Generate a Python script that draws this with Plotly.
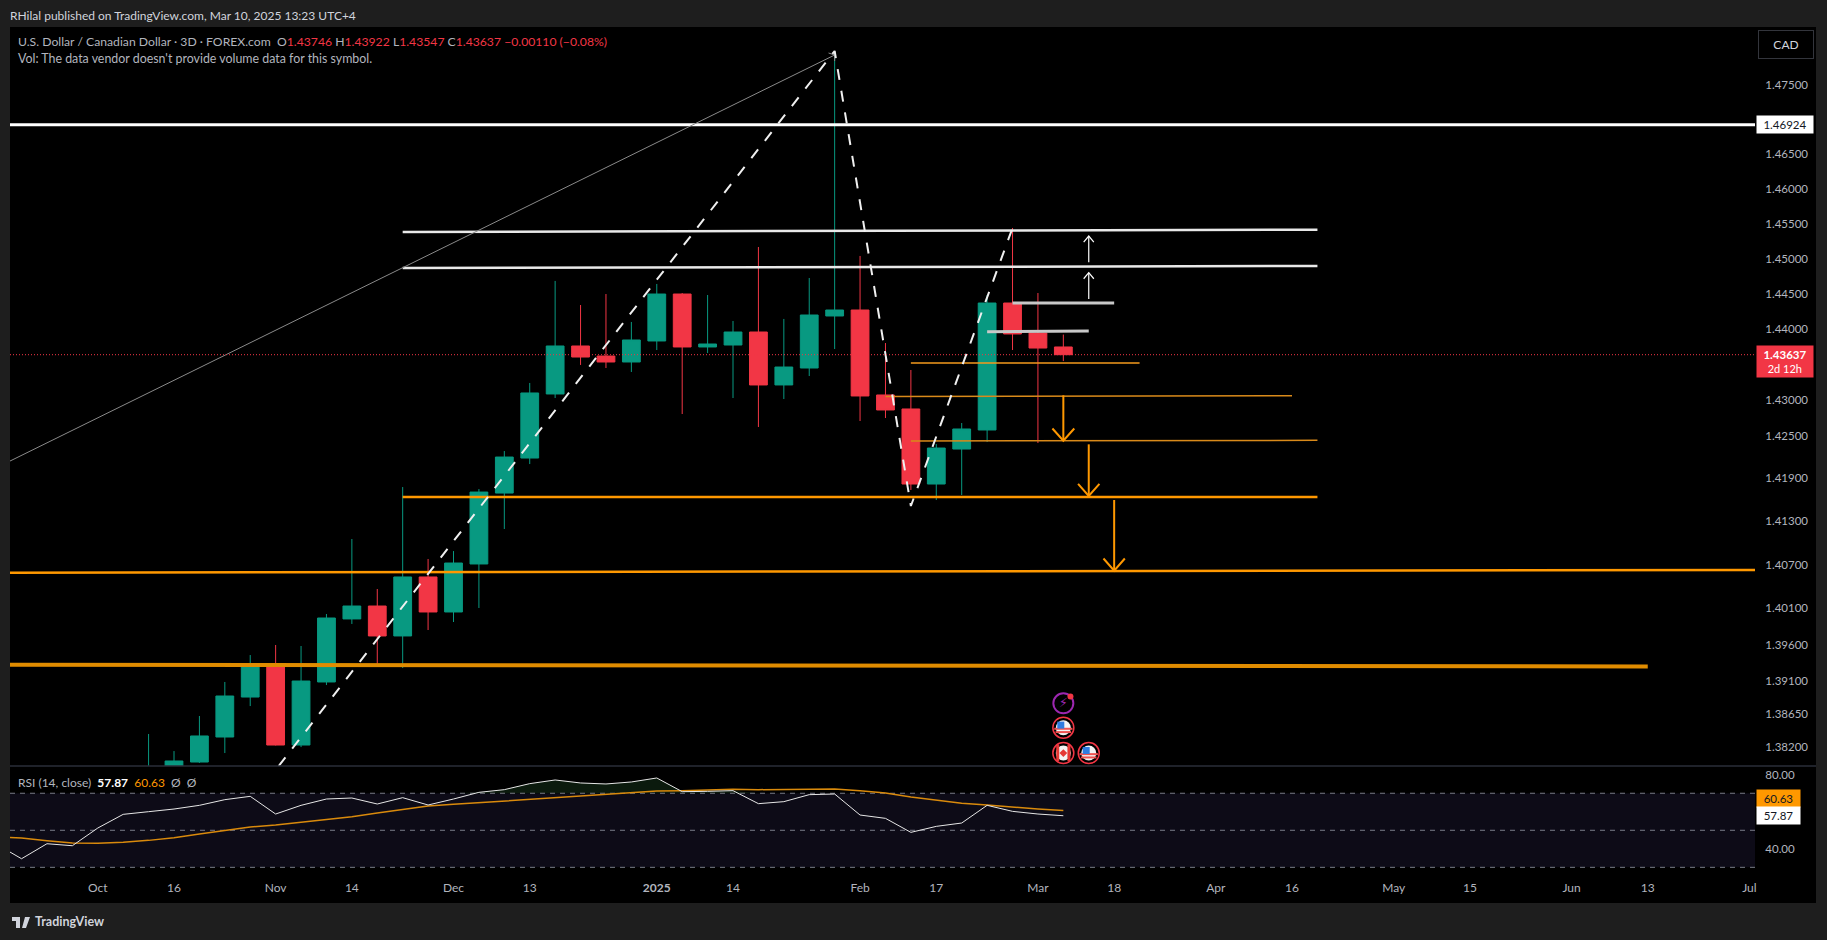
import numpy as np
import plotly.graph_objects as go

# 3D bars, index 0 is the first bar whose wick shows in the price pane
bar_index = list(range(37))
opens = [1.37280, 1.37616, 1.37995, 1.38335, 1.38880, 1.39332, 1.38226, 1.39086, 1.39951, 1.40129,
         1.39717, 1.40530, 1.40047, 1.40710, 1.41695, 1.42184, 1.43083, 1.43760, 1.43618, 1.43534,
         1.43831, 1.44497, 1.43746, 1.43774, 1.43958, 1.43210, 1.43449, 1.44185, 1.44270, 1.43069,
         1.42872, 1.41821, 1.42310, 1.42577, 1.44369, 1.43944, 1.43746]
highs = [1.38376, 1.38144, 1.38621, 1.39086, 1.39455, 1.39593, 1.39579, 1.40019, 1.41056, 1.40364,
         1.41779, 1.40779, 1.40889, 1.41751, 1.42282, 1.43238, 1.44683, 1.44341, 1.44497, 1.44100,
         1.44640, 1.44511, 1.44483, 1.44114, 1.45167, 1.44143, 1.44725, 1.47993, 1.45039, 1.43802,
         1.43421, 1.42380, 1.42675, 1.44483, 1.45439, 1.44511, 1.43922]
lows = [1.37140, 1.37480, 1.37982, 1.38117, 1.38757, 1.38220, 1.38198, 1.39044, 1.39882, 1.39305,
        1.39277, 1.39799, 1.39909, 1.40102, 1.41195, 1.42100, 1.43026, 1.43492, 1.43449, 1.43393,
        1.43703, 1.42801, 1.43661, 1.43026, 1.42619, 1.43012, 1.43336, 1.43717, 1.42703, 1.42745,
        1.41738, 1.41598, 1.41668, 1.42408, 1.43703, 1.42394, 1.43547]
closes = [1.37616, 1.38009, 1.38349, 1.38894, 1.39332, 1.38226, 1.39099, 1.39964, 1.40129, 1.39717,
          1.40530, 1.40047, 1.40723, 1.41709, 1.42198, 1.43097, 1.43760, 1.43604, 1.43534, 1.43845,
          1.44497, 1.43746, 1.43788, 1.43958, 1.43210, 1.43463, 1.44199, 1.44270, 1.43055, 1.42858,
          1.41821, 1.42324, 1.42591, 1.44369, 1.43930, 1.43731, 1.43637]

rsi_bars = list(range(-6, 37))
rsi_values = [42.58, 34.65, 42.75, 41.67, 51.22, 58.61, 60.05, 61.49, 63.48, 66.54, 68.34,
              58.79, 63.48, 66.90, 67.44, 64.20, 67.62, 63.66, 66.90, 70.50, 71.94, 75.19,
              77.17, 75.55, 75.01, 76.09, 78.25, 70.86, 71.04, 71.40, 64.38, 65.46, 69.24,
              69.60, 58.25, 56.45, 48.88, 52.12, 53.93, 63.48, 60.23, 58.79, 57.87]
rsi_ma = [46.54, 45.82, 44.38, 43.12, 42.94, 43.48, 44.56, 46.00, 47.98, 49.96, 51.76,
          52.85, 54.29, 55.73, 57.35, 59.33, 61.31, 63.12, 64.02, 64.92, 65.82, 66.54,
          67.44, 68.34, 69.06, 70.32, 71.22, 71.40, 71.76, 72.12, 71.94, 72.12, 72.30,
          72.30, 71.40, 70.14, 67.98, 66.18, 64.56, 63.66, 62.39, 61.49, 60.63]
rsi_bands = [70, 50, 30]

x_left = -5.454
x_right = 63.22
price_top = 1.48343
price_bottom = 1.37941

time_ticks = [-2, 1, 5, 8, 12, 15, 20, 23, 28, 31, 35, 38, 42, 45, 49, 52, 56, 59, 63]
time_labels = ["Oct", "16", "Nov", "14", "Dec", "13", "<b>2025</b>", "14", "Feb", "17", "Mar", "18",
               "Apr", "16", "May", "15", "Jun", "13", "Jul"]
price_ticks = [1.475, 1.465, 1.46, 1.455, 1.45, 1.445, 1.44, 1.43, 1.425, 1.419, 1.413,
               1.407, 1.401, 1.396, 1.391, 1.3865, 1.382]

# drawings: bar from, bar to, price from, price to, colour, width
white_levels = [
    (x_left, x_right, 1.46924, 1.46924, "#ffffff", 3),
    (10, 46, 1.45382, 1.45415, "#e8e8e8", 2.5),
    (10, 46, 1.44868, 1.44896, "#e8e8e8", 2.5),
    (34, 38, 1.44369, 1.44369, "#c8c8c8", 3),
    (33, 37, 1.43960, 1.43972, "#c8c8c8", 3),
]
orange_levels = [
    (30, 39, 1.43520, 1.43520, "#f59a1c", 1.5),
    (29, 45, 1.43047, 1.43058, "#d98a1a", 1.5),
    (30, 46, 1.42422, 1.42432, "#d98a1a", 1.5),
    (10, 46, 1.41640, 1.41640, "#ff9800", 2.5),
    (x_left, x_right, 1.40589, 1.40627, "#ff9800", 2.5),
    (x_left, 59, 1.39323, 1.39298, "#e08c00", 4),
]
zigzag_bars = [5.12, 27, 30, 34]
zigzag_prices = [1.37941, 1.47993, 1.41515, 1.45439]
trend_bars = [x_left, 27]
trend_prices = [1.42142, 1.47935]
# arrows: bar, price from, price to, head half width (bars), head height (price ratio), colour, width
arrows = [
    (37, 1.44949, 1.45324, 0.2, 1.0006, "#ffffff", 1.2),
    (37, 1.44426, 1.44801, 0.2, 1.0006, "#ffffff", 1.2),
    (36, 1.43064, 1.42427, 0.43, 1.0012, "#ff9800", 2),
    (37, 1.42376, 1.41654, 0.42, 1.0012, "#ff9800", 2),
    (38, 1.41598, 1.40617, 0.42, 1.0012, "#ff9800", 2),
]

GREEN = "#089981"
RED = "#f23645"
ORANGE = "#ff9800"
TEXT = "#b2b5be"
FONT = "Lato"


def px(x):
    return (x - 10) / 1745


def py(y):
    return (879 - y) / 852


def add_line(xs, ys, color, width, dash="solid", yaxis="y"):
    fig.add_trace(go.Scatter(x=xs, y=ys, mode="lines", yaxis=yaxis,
                             line=dict(color=color, width=width, dash=dash),
                             hoverinfo="skip", showlegend=False))


def add_marker(x, y, symbol, size, color, line_width=0, line_color=None):
    fig.add_trace(go.Scatter(x=[x], y=[y], mode="markers", hoverinfo="skip", showlegend=False,
                             marker=dict(symbol=symbol, size=size, color=color,
                                         line=dict(width=line_width, color=line_color or color))))


def add_text(x, y, text, size=12, color=TEXT):
    fig.add_annotation(xref="paper", yref="paper", x=px(x), y=py(y), text=text, showarrow=False,
                       xanchor="left", yanchor="middle", align="left",
                       font=dict(family=FONT, size=size, color=color))


def add_price_box(y, text, fill, color, w, h, x=1756, size=11.5):
    fig.add_annotation(xref="paper", yref="paper", x=px(x), y=py(y), text=text, showarrow=False,
                       xanchor="left", yanchor="middle", width=w, height=h, bgcolor=fill,
                       borderpad=0, font=dict(family=FONT, size=size, color=color))


fig = go.Figure()

for x0, x1, p0, p1, col, w in white_levels + orange_levels:
    add_line([x0, x1], [p0, p1], col, w)
add_line(trend_bars, trend_prices, "#8a8a8a", 1)
add_line([26.76, 27, 27], [1.47964, 1.47935, 1.47848], "#8a8a8a", 1)
add_line(zigzag_bars, zigzag_prices, "#f0f0f0", 2, dash="11px,11px")
add_line([x_left, x_right], [closes[-1], closes[-1]], RED, 1, dash="1px,2px")
for bar, p0, p1, half, ratio, col, w in arrows:
    add_line([bar, bar], [p0, p1], col, w)
    back = p1 * ratio if p1 < p0 else p1 / ratio
    add_line([bar - half, bar, bar + half], [back, p1, back], col, w)

fig.add_trace(go.Candlestick(
    x=bar_index, open=opens, high=highs, low=lows, close=closes, whiskerwidth=0,
    increasing=dict(line=dict(color=GREEN, width=1), fillcolor=GREEN),
    decreasing=dict(line=dict(color=RED, width=1), fillcolor=RED),
    hoverinfo="skip", showlegend=False))

# event markers
event_bars = [36, 36, 36, 37]
event_prices = [1.38794, 1.38462, 1.38117, 1.38117]
add_marker(event_bars[0], event_prices[0], "circle-open", 20, "#9c27b0", 2)
add_marker(event_bars[0] + 0.28, event_prices[0] + 0.00095, "circle", 6, "#f23645")
fig.add_trace(go.Scatter(x=[event_bars[0]], y=[event_prices[0]], mode="text", text=["⚡"],
                         textposition="middle center", hoverinfo="skip", showlegend=False,
                         textfont=dict(family="DejaVu Sans", size=13, color="#9c27b0")))
for bar, price in zip(event_bars[1:], event_prices[1:]):
    add_marker(bar, price, "circle", 15, "#f4f4f4")
    if price == event_prices[2] and bar == event_bars[2]:
        add_marker(bar - 0.22, price, "line-ns-open", 12, "#e53935", 3)
        add_marker(bar + 0.22, price, "line-ns-open", 12, "#e53935", 3)
        add_marker(bar, price, "diamond", 6, "#e53935")
    else:
        add_marker(bar, price - 0.00015, "line-ew-open", 13, "#ef5350", 2)
        add_marker(bar, price - 0.0006, "line-ew-open", 11, "#ef5350", 2)
        add_marker(bar - 0.1, price + 0.00035, "square", 7, "#2f7de1")
    add_marker(bar, price, "circle-open", 21, "#f23645", 1.5)

# RSI pane
add_line(rsi_bars, [70] * len(rsi_bars), "rgba(0,0,0,0)", 0, yaxis="y2")
fig.add_trace(go.Scatter(x=rsi_bars, y=[max(v, 70) for v in rsi_values], mode="lines", yaxis="y2",
                         line=dict(width=0), fill="tonexty", fillcolor="#0b1a0d",
                         hoverinfo="skip", showlegend=False))
for level in rsi_bands:
    add_line([x_left, x_right], [level, level], "#787b86", 1, dash="5px,5px", yaxis="y2")
add_line(rsi_bars, rsi_ma, "#d98a0c", 1.5, yaxis="y2")
add_line(rsi_bars, rsi_values, "#e6e6e6", 1, yaxis="y2")

shapes = [
    dict(type="rect", xref="paper", yref="paper", x0=px(10), x1=px(1816), y0=py(903), y1=py(27),
         fillcolor="#000000", line=dict(width=0), layer="below"),
    dict(type="rect", xref="x", yref="y2", x0=x_left, x1=x_right, y0=30, y1=70,
         fillcolor="#0d0b17", line=dict(width=0), layer="below"),
    dict(type="line", xref="paper", yref="paper", x0=px(10), x1=px(1816), y0=py(766), y1=py(766),
         line=dict(color="#2a2e39", width=1.5), layer="above"),
    # TradingView mark
    dict(type="path", xref="paper", yref="paper", fillcolor="#d1d4dc", line=dict(width=0), layer="above",
         path=f"M{px(12)},{py(917)} L{px(20)},{py(917)} L{px(20)},{py(928)} L{px(16)},{py(928)} "
              f"L{px(16)},{py(921)} L{px(12)},{py(921)} Z "
              f"M{px(25)},{py(917)} L{px(30)},{py(917)} L{px(26)},{py(928)} L{px(22)},{py(928)} Z"),
]

fig.update_layout(
    width=1827, height=940, autosize=False,
    margin=dict(l=10, r=72, t=27, b=61),
    paper_bgcolor="#1e1e1e", plot_bgcolor="#000000",
    showlegend=False, shapes=shapes, hovermode=False,
    boxgap=0.3, boxgroupgap=0,
    font=dict(family=FONT, color=TEXT),
    xaxis=dict(domain=[0, 1], range=[x_left, x_right], anchor="y2", showgrid=False, zeroline=False,
               tickmode="array", tickvals=time_ticks, ticktext=time_labels, ticks="",
               tickfont=dict(family=FONT, size=12, color=TEXT),
               rangeslider=dict(visible=False), type="linear"),
    yaxis=dict(domain=[0.13263, 1], type="log", range=[np.log10(price_bottom), np.log10(price_top)],
               side="right", anchor="x", showgrid=False, zeroline=False, tickmode="array",
               tickvals=price_ticks, ticktext=[f"{t:.5f}" for t in price_ticks], ticks="outside", ticklen=7,
               tickcolor="rgba(0,0,0,0)", tickfont=dict(family=FONT, size=11.5, color=TEXT)),
    yaxis2=dict(domain=[0, 0.1315], range=[23.7, 84.2], side="right", anchor="x", showgrid=False,
                zeroline=False, tickmode="array", tickvals=[80, 40], ticktext=["80.00", "40.00"], ticks="outside",
                ticklen=7, tickcolor="rgba(0,0,0,0)", tickfont=dict(family=FONT, size=11.5, color=TEXT)),
)

# header and legend text
add_text(8, 15, "RHilal published on TradingView.com, Mar 10, 2025 13:23 UTC+4", size=12, color="#d1d4dc")
red = f'<span style="color:{RED}">'
add_text(16, 41, f"U.S. Dollar / Canadian Dollar · 3D · FOREX.com  O{red}1.43746</span> H{red}1.43922</span> "
                 f"L{red}1.43547</span> C{red}1.43637 −0.00110 (−0.08%)</span>", size=12.2)
add_text(16, 59, "Vol: The data vendor doesn't provide volume data for this symbol.", size=12.4)
add_text(16, 782, f'RSI (14, close)  <span style="color:#ffffff"><b>57.87</b></span>  '
                  f'<span style="color:{ORANGE}">60.63</span>  Ø  Ø', size=12)
add_text(33, 922, "<b>TradingView</b>", size=12.5, color="#d1d4dc")

# right-hand boxes
add_price_box(124.5, "1.46924", "#ffffff", "#131722", 56, 17)
add_price_box(361.5, '<b>1.43637</b><br><span style="font-size:11px">2d 12h</span>', RED, "#ffffff", 56, 31)
add_price_box(798.5, "60.63", ORANGE, "#131722", 43, 17)
add_price_box(815.5, "57.87", "#ffffff", "#131722", 43, 17)
fig.add_annotation(xref="paper", yref="paper", x=px(1786), y=py(44), text="CAD", showarrow=False,
                   xanchor="center", yanchor="middle", width=54, height=27, bordercolor="#33353c",
                   borderwidth=1, borderpad=0, font=dict(family=FONT, size=12, color="#d1d4dc"))

fig.write_html("out.html", config=dict(displayModeBar=False),
               post_script="document.body.style.margin='0';"
                           "document.documentElement.style.overflow='hidden';")
